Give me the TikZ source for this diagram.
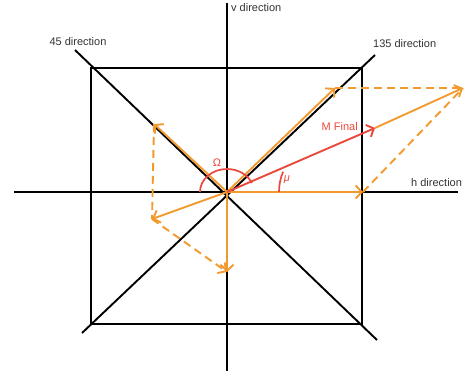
\documentclass[tikz,border=0pt]{standalone}
\usepackage{fontspec}
\setmainfont{Liberation Sans}
\usetikzlibrary{arrows.meta}
\definecolor{vorange}{RGB}{243,154,46}
\definecolor{vred}{RGB}{234,72,58}
\begin{document}
\begin{tikzpicture}[x=1pt,y=-1pt,
  axis/.style={line width=1.9pt,black},
  vec/.style={line width=1.9pt,vorange,-{Straight Barb[length=6pt,width=13pt,line width=1.9pt]}},
  dvec/.style={vec,dash pattern=on 8pt off 5pt},
  dline/.style={line width=1.9pt,vorange,dash pattern=on 8pt off 5pt},
  rvec/.style={line width=1.9pt,vred,-{Straight Barb[length=6pt,width=13pt,line width=1.9pt]}},
  rarc/.style={line width=1.7pt,vred},
  lbl/.style={font=\fontsize{11}{13}\selectfont,text=black!80,inner sep=0pt},
  rlbl/.style={lbl,text=vred}]
\useasboundingbox (0,0) rectangle (464,374);
% frame
\coordinate (TL) at (91,68);
\coordinate (TR) at (362,68);
\coordinate (BR) at (362,324);
\coordinate (BL) at (91,324);
\draw[axis] (TL) -- (TR) -- (BR) -- (BL) -- cycle;
\coordinate (HL) at (14,192);
\coordinate (HR) at (458,192);
\coordinate (VT) at (227,3);
\coordinate (VB) at (227,371);
\draw[axis] (HL) -- (HR);
\draw[axis] (VT) -- (VB);
\coordinate (D1a) at (75,50);
\coordinate (D1b) at (377,340);
\coordinate (D2a) at (375,55);
\coordinate (D2b) at (82,333);
\draw[axis] (D1a) -- (D1b);
\draw[axis] (D2a) -- (D2b);
% labels
\node[lbl,anchor=west] (lv) at (231,8) {v direction};
\node[lbl] (l45) at (78,42) {45 direction};
\node[lbl,anchor=west] (l135) at (373,44) {135 direction};
\node[lbl,anchor=west] (lh) at (411,183) {h direction};
% vectors
\coordinate (O) at (227,192);
\coordinate (P135) at (335,88);
\coordinate (P45) at (154,124);
\coordinate (PH) at (363,192);
\coordinate (PD) at (227,272);
\coordinate (PLL) at (152,219);
\coordinate (PM) at (375,128);
\coordinate (PR) at (463,88);
\draw[dline] (P135) -- (PR);
\draw[dline] (PH) -- (PR);
\draw[dline] (P45) -- (PLL);
\draw[dvec] (PLL) -- (PD);
\draw[vec] (O) -- (P135);
\draw[vec] (O) -- (P45);
\draw[vec] (O) -- (PH);
\draw[vec] (O) -- (PD);
\draw[vec] (O) -- (PLL);
\draw[vec] (PM) -- (PR);
\draw[rvec] (O) -- (PM);
% angles
\draw[rarc] (O) ++(180:27) arc[start angle=180,end angle=23,x radius=27,y radius=-23];
\draw[rarc] (O) ++(0:52) arc[start angle=0,end angle=23,radius=-52];
\node[rlbl] (lom) at (217,163) {Ω};
\node[rlbl] (lmu) at (287,180) {\textit{μ}};
\node[rlbl,anchor=east] (lmf) at (358,127) {M Final};
\end{tikzpicture}
\end{document}
